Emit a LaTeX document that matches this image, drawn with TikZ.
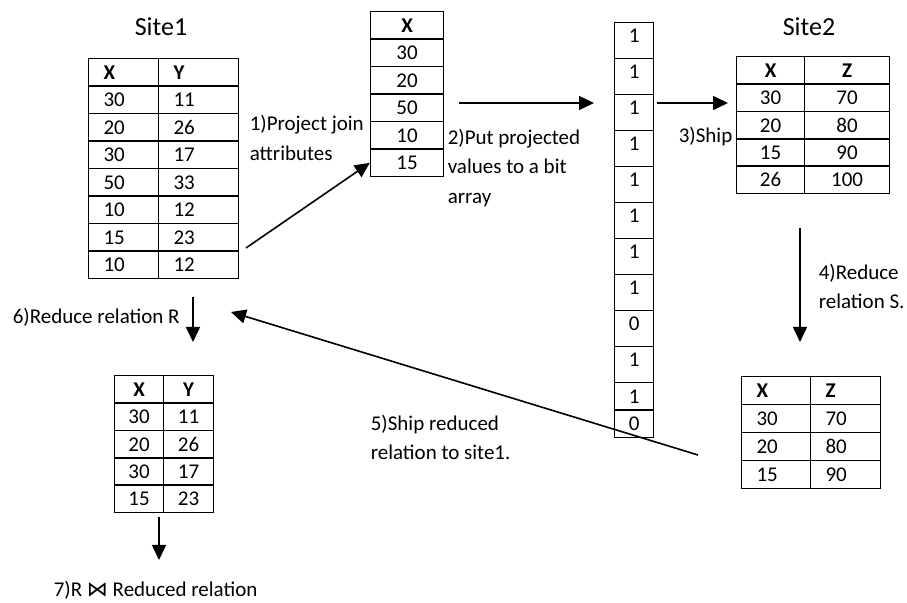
\documentclass[tikz,border=0pt]{standalone}
\usepackage{fontspec}
\setmainfont{Carlito}
\newfontfamily\symfont{DejaVu Sans}
\usetikzlibrary{matrix,arrows.meta}

\tikzset{
  cell/.style={draw, inner sep=0pt, text height=7pt, text depth=0pt, minimum height=13.75pt},
  rel/.style={matrix of nodes, anchor=north west, inner sep=0pt,
    column sep=-\pgflinewidth, row sep=-\pgflinewidth, nodes={cell}},
  lcol/.style={nodes={text width=#1, inner xsep=7.5pt, align=left}},
  ccol/.style={nodes={minimum width=#1}},
  head/.style={nodes={font=\bfseries}},
  note/.style={align=left, anchor=west, inner sep=0pt},
  sitetitle/.style={font=\fontsize{13}{15}\selectfont}
}

\begin{document}
\fontsize{10.5}{14.75}\selectfont
\begin{tikzpicture}[
    x=0.5pt, y=-0.5pt,
    line width=0.8pt,
    >={Triangle[length=7.5pt,width=7pt]}
  ]
  \useasboundingbox (0,0) rectangle (907,603);

  % site 1
  \node[sitetitle] (site1) at (161,27) {Site1};
  \matrix (R) [rel, column 1/.style={lcol=20pt}, column 2/.style={lcol=25pt},
    row 1/.style={head}] at (87,57) {
    X & Y \\
    30 & 11 \\
    20 & 26 \\
    30 & 17 \\
    50 & 33 \\
    10 & 12 \\
    15 & 23 \\
    10 & 12 \\
  };

  % projected join attribute
  \matrix (Xp) [rel, column 1/.style={ccol=36.5pt}, row 1/.style={head}] at (369,10) {
    X \\ 30 \\ 20 \\ 50 \\ 10 \\ 15 \\
  };

  % bit array
  \matrix (bits) [rel, nodes={minimum height=18pt, minimum width=19.5pt, text depth=5pt},
    row 11/.style={nodes={minimum height=13.75pt, text depth=0pt}},
    row 12/.style={nodes={minimum height=13.75pt, text depth=0pt}}] at (613,21) {
    1 \\ 1 \\ 1 \\ 1 \\ 1 \\ 1 \\ 1 \\ 1 \\ 0 \\ 1 \\ 1 \\ 0 \\
  };

  % site 2
  \node[sitetitle] (site2) at (809,27) {Site2};
  \matrix (S) [rel, nodes={minimum height=13.7pt}, column 1/.style={ccol=34pt},
    column 2/.style={ccol=42.5pt}, row 1/.style={head}] at (735,55) {
    X & Z \\
    30 & 70 \\
    20 & 80 \\
    15 & 90 \\
    26 & 100 \\
  };

  % reduced S
  \matrix (Sr) [rel, nodes={minimum height=14pt}, column 1/.style={lcol=19.5pt},
    column 2/.style={lcol=20pt}, row 1/.style={head}] at (740,375) {
    X & Z \\
    30 & 70 \\
    20 & 80 \\
    15 & 90 \\
  };

  % reduced R
  \matrix (Rr) [rel, nodes={minimum height=13.7pt}, column 1/.style={ccol=24.5pt},
    column 2/.style={ccol=25pt}, row 1/.style={head}] at (113,374) {
    X & Y \\
    30 & 11 \\
    20 & 26 \\
    30 & 17 \\
    15 & 23 \\
  };

  % step labels
  \node[note] (step1) at (249,138) {1)Project join\\attributes};
  \node[note] (step2) at (447,168) {2)Put projected\\values to a bit\\array};
  \node[note] (step3) at (678,137) {3)Ship};
  \node[note] (step4) at (818,286.5) {4)Reduce\\relation S.};
  \node[note] (step5) at (370,437.5) {5)Ship reduced\\relation to site1.};
  \node[note] (step6) at (12,317) {6)Reduce relation R};
  \node[note] (step7) at (53,590) {7)R {\symfont ⋈} Reduced relation};

  % arrow ends
  \coordinate (proj) at (246,248);
  \coordinate (put from) at (459,103);
  \coordinate (put to) at (594,103);
  \coordinate (ship from) at (657,103);
  \coordinate (ship to) at (728,103);
  \coordinate (red from) at (800,228);
  \coordinate (red to) at (800,342);
  \coordinate (back from) at (698,455);
  \coordinate (back to) at (231,312);
  \coordinate (redR from) at (193,297);
  \coordinate (redR to) at (193,342);
  \coordinate (join from) at (159,517);
  \coordinate (join to) at (159,560);

  \draw[->] (proj) -- (Xp-6-1.west);
  \draw[->] (put from) -- (put to);
  \draw[->] (ship from) -- (ship to);
  \draw[->] (red from) -- (red to);
  \draw[->] (back from) -- (back to);
  \draw[->] (redR from) -- (redR to);
  \draw[->] (join from) -- (join to);
\end{tikzpicture}
\end{document}
